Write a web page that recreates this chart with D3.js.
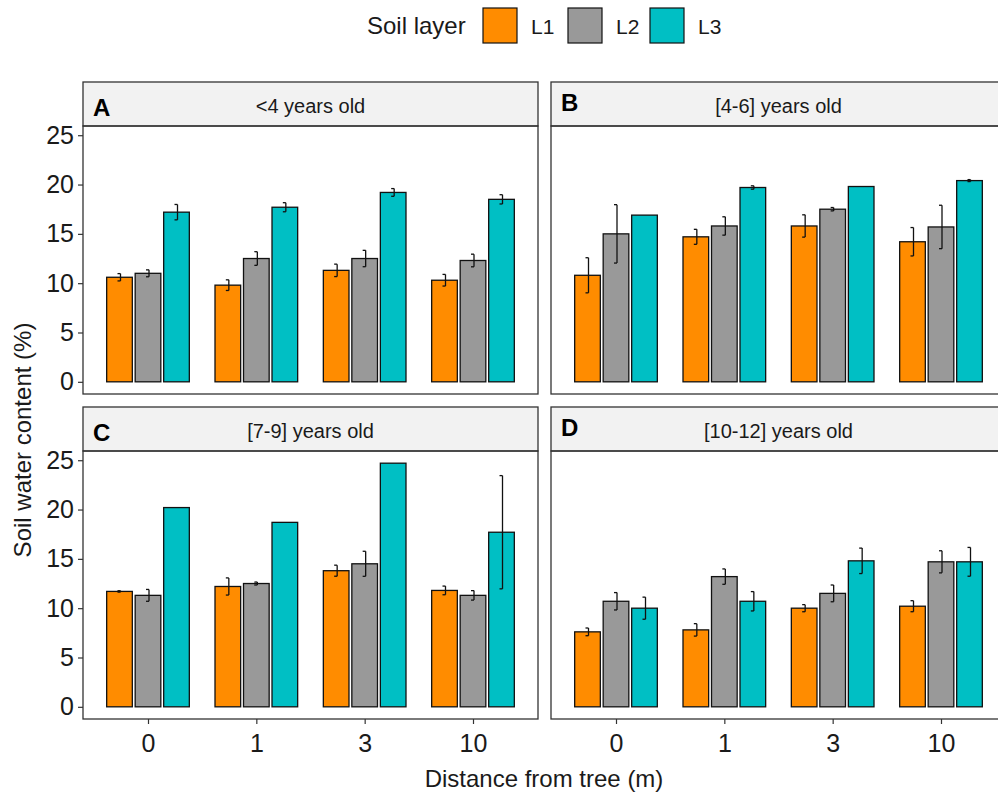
<!DOCTYPE html>
<html>
<head>
<meta charset="utf-8">
<script src="https://cdn.jsdelivr.net/npm/d3@7"></script>
<style>
  html, body { margin: 0; padding: 0; background: #fff; }
  text { font-family: "Liberation Sans", Arial, sans-serif; }
</style>
</head>
<body>
<script>
// categories
const distances = ['0', '1', '3', '10'];
const layers = ['L1', 'L2', 'L3'];
const panelLetters = ['A', 'B', 'C', 'D'];
const panelTitles = ['<4 years old', '[4-6] years old', '[7-9] years old', '[10-12] years old'];
const yTicks = [0, 5, 10, 15, 20, 25];

// means per layer (rows L1, L2, L3), columns = distance 0, 1, 3, 10
const meanA = [[10.6, 9.8, 11.3, 10.3], [11.0, 12.5, 12.5, 12.3], [17.2, 17.7, 19.2, 18.5]];
const seA = [[0.37, 0.54, 0.63, 0.59], [0.35, 0.69, 0.83, 0.64], [0.78, 0.46, 0.39, 0.47]];
const meanB = [[10.8, 14.7, 15.8, 14.2], [15.0, 15.8, 17.5, 15.7], [16.9, 19.7, 19.8, 20.4]];
const seB = [[1.78, 0.76, 1.13, 1.44], [2.96, 0.93, 0.17, 2.2], [0, 0.17, 0, 0.1]];
const meanC = [[11.7, 12.2, 13.8, 11.8], [11.3, 12.5, 14.5, 11.3], [20.2, 18.7, 24.7, 17.7]];
const seC = [[0.07, 0.87, 0.56, 0.44], [0.6, 0.15, 1.27, 0.48], [0, 0, 0, 5.74]];
const meanD = [[7.6, 7.8, 10.0, 10.2], [10.7, 13.2, 11.5, 14.7], [10.0, 10.7, 14.8, 14.7]];
const seD = [[0.39, 0.63, 0.36, 0.56], [0.88, 0.78, 0.85, 1.12], [1.12, 0.98, 1.29, 1.46]];

const means = [meanA, meanB, meanC, meanD];
const ses = [seA, seB, seC, seD];
const colors = ['#FF8C00', '#999999', '#00BFC4'];

const width = 998, height = 796;
const panelW = 455, stripH = 44, plotH = 268;
const colX = [83, 551];
const rowY = [82, 407];

const svg = d3.select('body')
  .append('svg')
  .attr('width', width)
  .attr('height', height);

// shared y scale, ggplot-like 5% expansion
const yMax = d3.max(means, (m, p) => d3.max(m, (row, l) => d3.max(row, (v, i) => v + ses[p][l][i])));
const y = d3.scaleLinear()
  .domain([-0.05 * yMax, 1.05 * yMax])
  .range([plotH, 0]);

const x = d3.scalePoint().domain(distances).range([0, panelW]).padding(0.6);
const half = 0.3815 * x.step();
const xInner = d3.scaleBand().domain(layers).range([-half, half]).paddingInner(0.1);

panelLetters.forEach((letter, p) => {
  const col = p % 2, row = Math.floor(p / 2);
  const g = svg.append('g').attr('transform', `translate(${colX[col]}, ${rowY[row]})`);

  // strip
  g.append('rect')
    .attr('x', 0).attr('y', 0)
    .attr('width', panelW).attr('height', stripH)
    .attr('fill', '#f2f2f2')
    .attr('stroke', '#333').attr('stroke-width', 1.3);
  g.append('text')
    .attr('x', panelW / 2).attr('y', stripH / 2 + 9)
    .attr('text-anchor', 'middle')
    .attr('font-size', 20)
    .attr('fill', '#1a1a1a')
    .text(panelTitles[p]);
  g.append('text')
    .attr('x', 10).attr('y', col === 0 ? 34 : 29)
    .attr('font-size', 24)
    .attr('font-weight', 'bold')
    .attr('fill', '#000')
    .text(letter);

  const plot = g.append('g').attr('transform', `translate(0, ${stripH})`);

  // bars
  const rows = [];
  layers.forEach((layer, l) => {
    distances.forEach((d, i) => {
      rows.push({ d, layer, l, v: means[p][l][i], se: ses[p][l][i] });
    });
  });

  plot.selectAll('.bar')
    .data(rows)
    .enter()
    .append('rect')
    .attr('class', 'bar')
    .attr('x', (r) => x(r.d) + xInner(r.layer))
    .attr('y', (r) => y(r.v))
    .attr('width', xInner.bandwidth())
    .attr('height', (r) => y(0) - y(r.v))
    .attr('fill', (r) => colors[r.l])
    .attr('stroke', '#111')
    .attr('stroke-width', 1.3);

  // error bars, small caps to the left
  const eb = plot.selectAll('.err')
    .data(rows.filter((r) => r.se > 0))
    .enter()
    .append('g')
    .attr('class', 'err')
    .attr('transform', (r) => `translate(${x(r.d) + xInner(r.layer) + xInner.bandwidth() / 2 + 1}, 0)`)
    .attr('stroke', '#111')
    .attr('stroke-width', 1.3)
    .attr('fill', 'none');
  eb.append('line')
    .attr('x1', 0).attr('x2', 0)
    .attr('y1', (r) => y(r.v - r.se)).attr('y2', (r) => y(r.v + r.se));
  eb.append('line')
    .attr('x1', -3).attr('x2', 0)
    .attr('y1', (r) => y(r.v - r.se)).attr('y2', (r) => y(r.v - r.se));
  eb.append('line')
    .attr('x1', -3).attr('x2', 0)
    .attr('y1', (r) => y(r.v + r.se)).attr('y2', (r) => y(r.v + r.se));

  // panel border
  plot.append('rect')
    .attr('width', panelW).attr('height', plotH)
    .attr('fill', 'none')
    .attr('stroke', '#333').attr('stroke-width', 1.3);

  if (col === 0) {
    const yAxis = plot.append('g')
      .call(d3.axisLeft(y).tickValues(yTicks).tickSize(5).tickPadding(4));
    yAxis.select('.domain').remove();
    yAxis.selectAll('line').attr('stroke', '#333').attr('stroke-width', 1.2);
    yAxis.selectAll('text')
      .attr('font-size', 25)
      .attr('fill', '#1a1a1a')
      .attr('font-family', '"Liberation Sans", Arial, sans-serif');
  }
  if (row === 1) {
    const xAxis = plot.append('g')
      .attr('transform', `translate(0, ${plotH})`)
      .call(d3.axisBottom(x).tickSize(5).tickPadding(10));
    xAxis.select('.domain').remove();
    xAxis.selectAll('line').attr('stroke', '#333').attr('stroke-width', 1.2);
    xAxis.selectAll('text')
      .attr('font-size', 25)
      .attr('fill', '#1a1a1a')
      .attr('font-family', '"Liberation Sans", Arial, sans-serif');
  }
});

// axis titles
svg.append('text')
  .attr('x', 544).attr('y', 787)
  .attr('text-anchor', 'middle')
  .attr('font-size', 24)
  .attr('fill', '#1a1a1a')
  .text('Distance from tree (m)');

svg.append('text')
  .attr('transform', 'translate(31, 440) rotate(-90)')
  .attr('text-anchor', 'middle')
  .attr('font-size', 24)
  .attr('fill', '#1a1a1a')
  .text('Soil water content (%)');

// legend
const legend = svg.append('g');
legend.append('text')
  .attr('x', 367).attr('y', 34)
  .attr('font-size', 24)
  .attr('fill', '#1a1a1a')
  .text('Soil layer');

const keyX = [483, 568, 650];
const item = legend.selectAll('.legend')
  .data(layers)
  .enter()
  .append('g')
  .attr('class', 'legend')
  .attr('transform', (_, i) => `translate(${keyX[i]}, 8)`);
item.append('rect')
  .attr('width', 34).attr('height', 35)
  .attr('fill', (_, i) => colors[i])
  .attr('stroke', '#111').attr('stroke-width', 1.2);
item.append('text')
  .attr('x', 48).attr('y', 26)
  .attr('font-size', 21)
  .attr('fill', '#1a1a1a')
  .text((d) => d);
</script>
</body>
</html>
